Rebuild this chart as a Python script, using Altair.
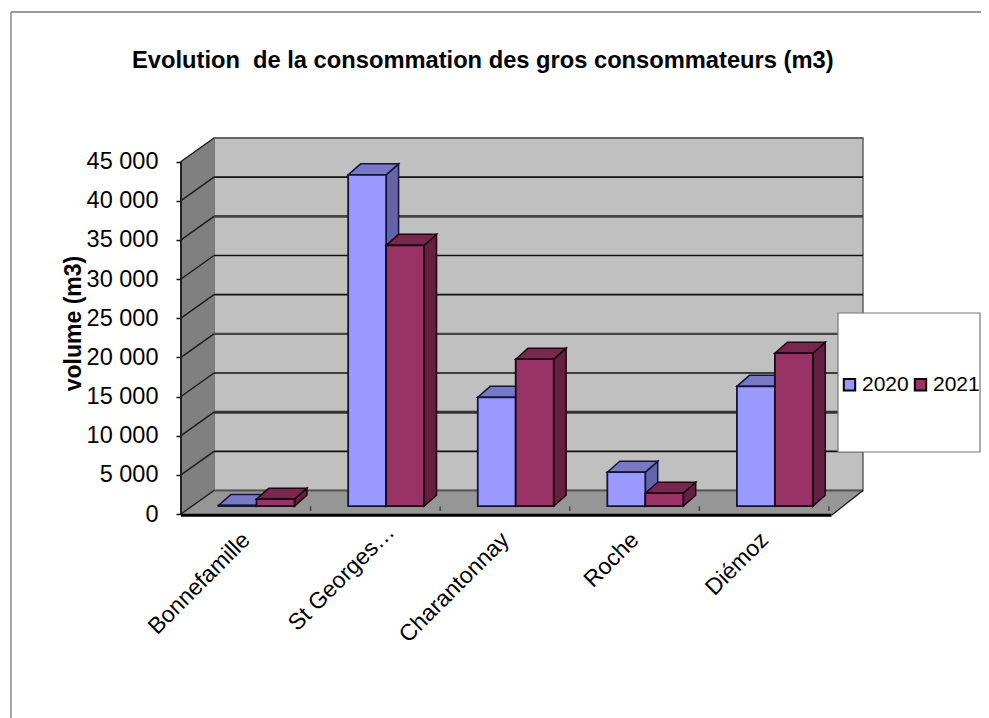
import json
import altair as alt
import pandas as pd

CATEGORIES = ["Bonnefamille", "St Georges…", "Charantonnay", "Roche", "Diémoz"]
V2020 = [100, 42300, 13900, 4340, 15300]
V2021 = [900, 33300, 18770, 1660, 19530]
TICKS = list(range(0, 45001, 5000))
TITLE = "Evolution\u00a0 de la consommation des gros consommateurs (m3)"

# chart geometry, in data units (x: one unit = one category, y: m3)
N = 5
BACK_DX, BACK_DY = 0.2546, 3000
X_END = 5.263
FRONT_END = 5.02
Y_END = 48000
BAR_LEFT, BAR_W = 0.29, 0.293
BAR_BASE = 1000
DEPTH_DX, DEPTH_DY = 0.096, 1400
GRID_WIDTHS = [2, 1.6, 3, 1.6, 2.4, 1.6, 1.6, 2.6, 1.6, 2]
GRID_COLORS = ["#555", "#111", "#333", "#111", "#444", "#111", "#111", "#444", "#111", "#666"]
COL_2020 = dict(front="#9999FF", side="#6464A8", top="#7878C4", edge="#14143A")
COL_2021 = dict(front="#993366", side="#642040", top="#78284F", edge="#1C0612")

xs = alt.Scale(domain=[0, X_END], nice=False, zero=False)
ys = alt.Scale(domain=[0, Y_END], nice=False, zero=False)

labels_js = json.dumps(CATEGORIES, ensure_ascii=False)
x_axis = alt.Axis(
    values=[i + 0.5 for i in range(N)], labelExpr=f"{labels_js}[datum.value - 0.5]",
    labelAngle=315, labelAlign="right", labelBaseline="middle",
    labelPadding={"condition": {"test": "datum.value == 1.5", "value": 14}, "value": 22},
    labelOffset={"condition": {"test": "datum.value == 1.5", "value": 15}, "value": 0},
    labelFont="Liberation Sans", labelFontSize=23, labelColor="#000", labelOverlap=False,
    labelFlush=False, labelBound=False, ticks=False, domain=False, grid=False, title=None, zindex=2)
y_axis = alt.Axis(
    values=TICKS, labelExpr="replace(format(datum.value, ','), ',', ' ')",
    labelFont="Liberation Sans", labelFontSize=23.5, labelColor="#000", labelPadding=18, labelOverlap=False,
    labelFlush=False, labelBound=False,
    tickSize=5, tickColor="#111", tickWidth=1.5, domain=False, grid=False,
    title="volume (m3)", titleFont="Liberation Sans", titleFontSize=23, titleFontWeight="bold",
    titleColor="#000", titleX=-96, titleY=185, zindex=2)

X = lambda f="x": alt.X(f"{f}:Q", scale=xs, axis=x_axis)
Y = lambda f="y": alt.Y(f"{f}:Q", scale=ys, axis=y_axis, stack=None)


def vface(rows, fill, stroke=None, sw=1.5):
    m = dict(fill=fill, strokeWidth=sw, opacity=1)
    if stroke:
        m["stroke"] = stroke
    return alt.Chart(pd.DataFrame(rows)).mark_area(**m).encode(
        x=X(), y=Y(), y2="y2:Q", detail="k:N"
    )


def hface(rows, fill, stroke=None, sw=1.5):
    m = dict(fill=fill, strokeWidth=sw, opacity=1, orient="horizontal")
    if stroke:
        m["stroke"] = stroke
    return alt.Chart(pd.DataFrame(rows)).mark_area(**m).encode(
        y=Y(), x=alt.X("x:Q", scale=xs, axis=x_axis, stack=None), x2="x2:Q", detail="k:N"
    )


back = vface([{"k": 0, "x": BACK_DX, "y": BACK_DY, "y2": Y_END}, {"k": 0, "x": X_END, "y": BACK_DY, "y2": Y_END}],
             "#C0C0C0", "#606060", 1.5)
wall = vface([{"k": 0, "x": 0, "y": 0, "y2": TICKS[-1]}, {"k": 0, "x": BACK_DX, "y": BACK_DY, "y2": Y_END}],
             "#808080")
floor = hface([{"k": 0, "y": 0, "x": 0, "x2": FRONT_END}, {"k": 0, "y": BACK_DY, "x": BACK_DX, "x2": X_END}],
              "#969696")

grid_df = pd.DataFrame({"x": BACK_DX, "x2": X_END, "y": [t + BACK_DY for t in TICKS],
                        "w": GRID_WIDTHS, "c": GRID_COLORS})
grid = alt.Chart(grid_df).mark_rule().encode(
    x=X(), x2="x2:Q", y=Y(),
    strokeWidth=alt.StrokeWidth("w:Q", scale=None, legend=None),
    stroke=alt.Stroke("c:N", scale=None, legend=None),
)

wall_rows = []
for t in TICKS:
    wall_rows += [{"k": t, "x": 0, "y": t}, {"k": t, "x": BACK_DX, "y": t + BACK_DY}]
wall_rows += [{"k": "edge", "x": FRONT_END, "y": -150}, {"k": "edge", "x": X_END, "y": BACK_DY}]
wall_lines = alt.Chart(pd.DataFrame(wall_rows)).mark_line(color="#1a1a1a", strokeWidth=1.4).encode(
    x=X(), y=Y(), detail="k:N")
left_axis = alt.Chart(pd.DataFrame({"x": [0], "y": [0], "y2": [TICKS[-1]]})).mark_rule(
    color="#222", strokeWidth=2).encode(x=X(), y=Y(), y2="y2:Q")
front_lip = alt.Chart(pd.DataFrame({"x": [0], "x2": [FRONT_END], "y": [-150]})).mark_rule(
    color="#000", strokeWidth=3).encode(x=X(), x2="x2:Q", y=Y())
floor_ticks = alt.Chart(pd.DataFrame({"x": [i + 1 for i in range(N)], "y": [400] * N, "y2": [BAR_BASE] * N})).mark_rule(
    color="#444", strokeWidth=1.5).encode(x=X(), y=Y(), y2="y2:Q")


def bars(values, series, slot, col):
    side, top, front = [], [], []
    for i, v in enumerate(values):
        xl = i + BAR_LEFT + slot * BAR_W
        xr = xl + BAR_W
        b, t = BAR_BASE, BAR_BASE + v
        side += [{"k": i, "x": xr, "y": b, "y2": t},
                 {"k": i, "x": xr + DEPTH_DX, "y": b + DEPTH_DY, "y2": t + DEPTH_DY}]
        top += [{"k": i, "y": t, "x": xl, "x2": xr},
                {"k": i, "y": t + DEPTH_DY, "x": xl + DEPTH_DX, "x2": xr + DEPTH_DX}]
        front.append({"x": xl, "x2": xr, "y": b, "y2": t, "s": series})
    f = alt.Chart(pd.DataFrame(front)).mark_rect(stroke=col["edge"], strokeWidth=1.8).encode(
        x=X(), x2="x2:Q", y=Y(), y2="y2:Q",
        color=alt.Color("s:N", scale=alt.Scale(domain=["2020", "2021"], range=[COL_2020["front"], COL_2021["front"]]),
                        legend=alt.Legend(title=None, orient="none", legendX=658, legendY=236, direction="horizontal",
                                          symbolType="square", symbolSize=130, symbolStrokeColor="#000",
                                          symbolStrokeWidth=2, symbolOpacity=1,
                                          labelFont="Liberation Sans", labelFontSize=21, labelColor="#000",
                                          labelOffset=2, columnPadding=1)),
    )
    return [vface(side, col["side"], col["edge"]), hface(top, col["top"], col["edge"]), f]


one = pd.DataFrame({"a": [0]})
legend_box = alt.Chart(one).mark_rect(fill="#FFFFFF", stroke="#777", strokeWidth=1.2).encode(
    x=alt.value(657), x2=alt.value(799), y=alt.value(175), y2=alt.value(314))
border_top = alt.Chart(one).mark_rule(color="#777", strokeWidth=1.3).encode(
    x=alt.value(-170), x2=alt.value(808), y=alt.value(-126))
border_left = alt.Chart(one).mark_rule(color="#777", strokeWidth=1.3).encode(
    x=alt.value(-170), y=alt.value(-126), y2=alt.value(580))

chart = alt.layer(
    border_top, border_left, back, wall, floor, grid, wall_lines, left_axis, front_lip, floor_ticks,
    *bars(V2020, "2020", 0, COL_2020), *bars(V2021, "2021", 1, COL_2021),
    legend_box,
).properties(
    width=682, height=376,
    padding={"left": 173, "top": 130, "right": 118, "bottom": 204},
    autosize=alt.AutoSizeParams(type="none"),
    title=alt.TitleParams(TITLE, anchor="start", frame="group", dx=-49, dy=61, offset=0,
                          font="Liberation Sans", fontSize=23.7, fontWeight="bold", color="#000"),
).configure(background="white").configure_view(stroke=None)

chart.save("out.html", embed_options={"renderer": "svg", "actions": False})
